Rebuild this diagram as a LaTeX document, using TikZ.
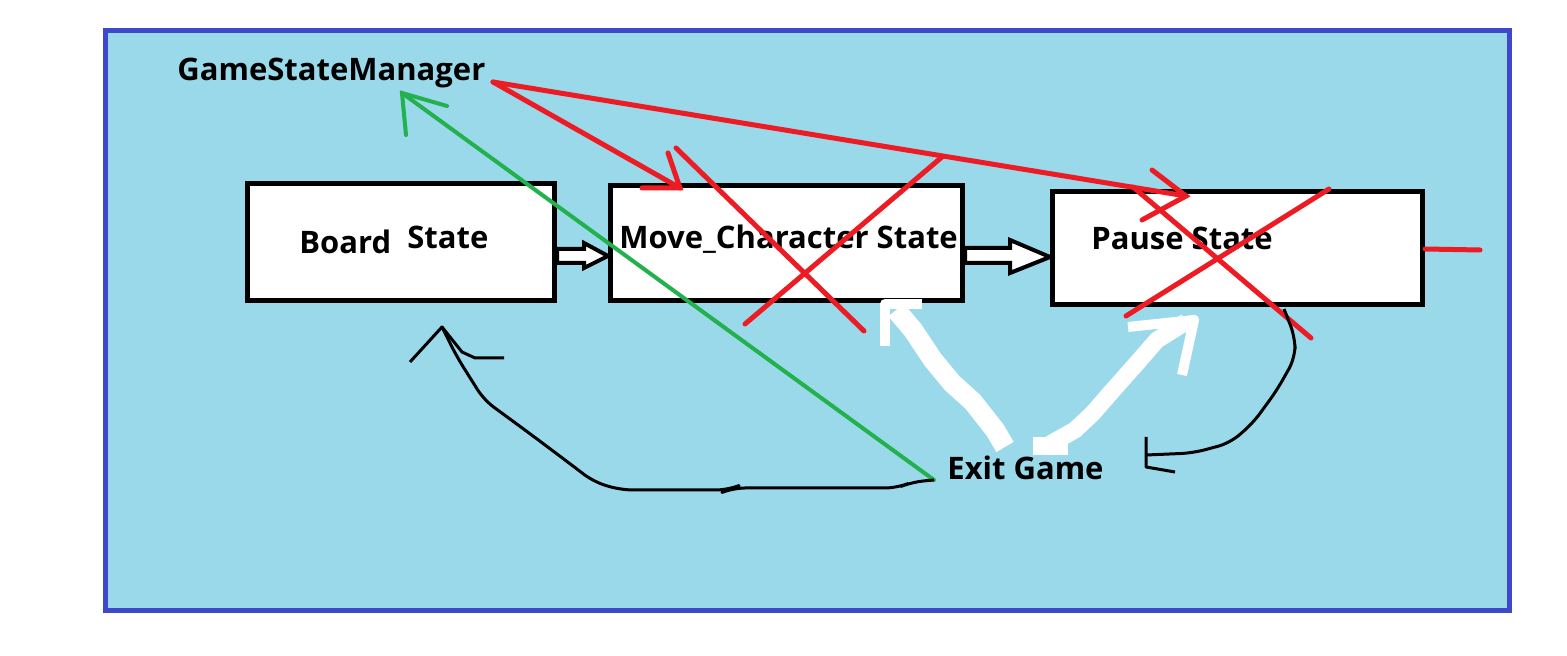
\documentclass[tikz,border=0pt]{standalone}
\usepackage{fontspec}
\setmainfont{Open Sans}
\usepackage{xcolor}
\usepackage{tikz}
\usetikzlibrary{positioning, calc, arrows.meta}

\definecolor{paintsky}{RGB}{153,217,234}
\definecolor{paintframe}{RGB}{63,72,204}
\definecolor{paintred}{RGB}{237,28,36}
\definecolor{paintgreen}{RGB}{34,177,76}

\tikzset{
  statebox/.style={draw=black, line width=2.5pt, fill=white, inner sep=0pt},
  boldtext/.style={font=\bfseries\fontsize{15.5}{18}\selectfont, inner sep=0pt, anchor=base west},
  redline/.style={draw=paintred, line width=2.5pt, line cap=round},
  greenline/.style={draw=paintgreen, line width=2pt, line cap=round},
  pencil/.style={draw=black, line width=1.5pt, line join=round},
  hollowarrow/.style={draw=black, line width=2pt, fill=white, line join=miter},
  brush/.style={draw=white, line width=#1, line join=round},
}

\begin{document}
\begin{tikzpicture}[x=0.5pt, y=-0.5pt]
  \useasboundingbox[fill=white] (0,0) rectangle (1567,656);
  % Canvas
  \draw[draw=paintframe, fill=paintsky, line width=2.5pt] (105,31) rectangle (1509,610);

  % States
  \node[statebox, minimum width=153.5pt, minimum height=58.5pt] (board) at (401,242) {};
  \node[statebox, minimum width=176pt, minimum height=57.5pt] (move) at (786.5,243) {};
  \node[statebox, minimum width=185pt, minimum height=56.5pt] (pause) at (1237.5,248) {};

  \node[boldtext] (boardlbl) at (299,254) {Board};
  \node[boldtext] (boardstate) at (407,249) {State};
  \node[boldtext] (movelbl) at (619,249) {Move\_Character State};
  \node[boldtext] (pauselbl) at (1091,250) {Pause State};
  \node[boldtext] (gsm) at (177,81) {GameStateManager};
  \node[boldtext] (exit) at (947,480) {Exit Game};

  % Hollow arrows between states
  \draw[hollowarrow] ($(board.east)+(0,7)$) -- ++(27,0) -- ++(0,-6) -- ($(move.west)+(0,13)$)
    -- ++(-24,12) -- ++(0,-5) -- ($(board.east)+(0,21)$) -- cycle;
  \draw[hollowarrow] ($(move.east)+(0,5)$) -- ++(45,0) -- ++(0,-8) -- ($(pause.west)+(0,9)$)
    -- ++(-40,16) -- ++(0,-10) -- ($(move.east)+(0,20)$) -- cycle;

  % Points
  \coordinate (gsmtail) at (493,82);
  \coordinate (movetip) at (680,188);
  \coordinate (pausetip) at (1186,196);
  \coordinate (gsmtip) at (402,93);
  \coordinate (exitend) at (934,480);
  \coordinate (boardtip) at (442,327);
  \coordinate (pauseloop) at (1284,309);
  \coordinate (loopend) at (1146,455);

  % Red arrows from the manager
  \draw[redline] (gsmtail) -- (movetip);
  \draw[redline] (642,188) -- (movetip) -- (668,153);
  \draw[redline] (gsmtail) -- (pausetip);
  \draw[redline] (1152,170) -- (pausetip) -- (1142,220);

  % Crossed out states
  \draw[redline] (676,148) -- (864,331);
  \draw[redline] (745,324) -- (942,157);
  \draw[redline] (1133,187) -- (1311,338);
  \draw[redline] (1126,316) -- (1329,189);
  \draw[redline] (pause.east) ++(0,1) -- (1480,250);

  % Green arrow back to the manager
  \draw[greenline] (exitend) -- (gsmtip);
  \draw[greenline] (447,106) -- (gsmtip) -- (406,135);

  % Black loop back to the board
  \draw[pencil, rounded corners=6pt] (exitend) -- (912,482) -- (897,488) -- (733,488) -- (728,490) -- (621,490)
    -- (594,482) -- (569,463) -- (529,433) -- (484,400) -- (457,357) -- (boardtip);
  \draw[pencil] (410,362) -- (boardtip) -- (462,352) -- (475,358) -- (504,358);

  % Black loop below the pause state
  \draw[pencil, rounded corners=6pt] (pauseloop) -- (1295,337) -- (1295,358) -- (1277,390) -- (1253,423)
    -- (1230,443) -- (1193,453) -- (loopend);
  \draw[pencil] (1146,437) -- (1146,467) -- (1175,472);

  % White arrows from exit
  \draw[brush=10pt] (1005,447) -- (995,430) -- (973,402) -- (952,383) -- (933,360) -- (913,330) -- (896,310);
  \draw[brush=5pt] (885,346) -- (885,304) -- (922,304);
  \fill[white] (1033,437) rectangle (1068,455);
  \draw[brush=8.5pt] (1050,444) -- (1075,430) -- (1093,413) -- (1113,390) -- (1137,363) -- (1157,340) -- (1186,322);
  \draw[brush=5pt] (1128,327) -- (1194,320) -- (1182,375);
\end{tikzpicture}
\end{document}
